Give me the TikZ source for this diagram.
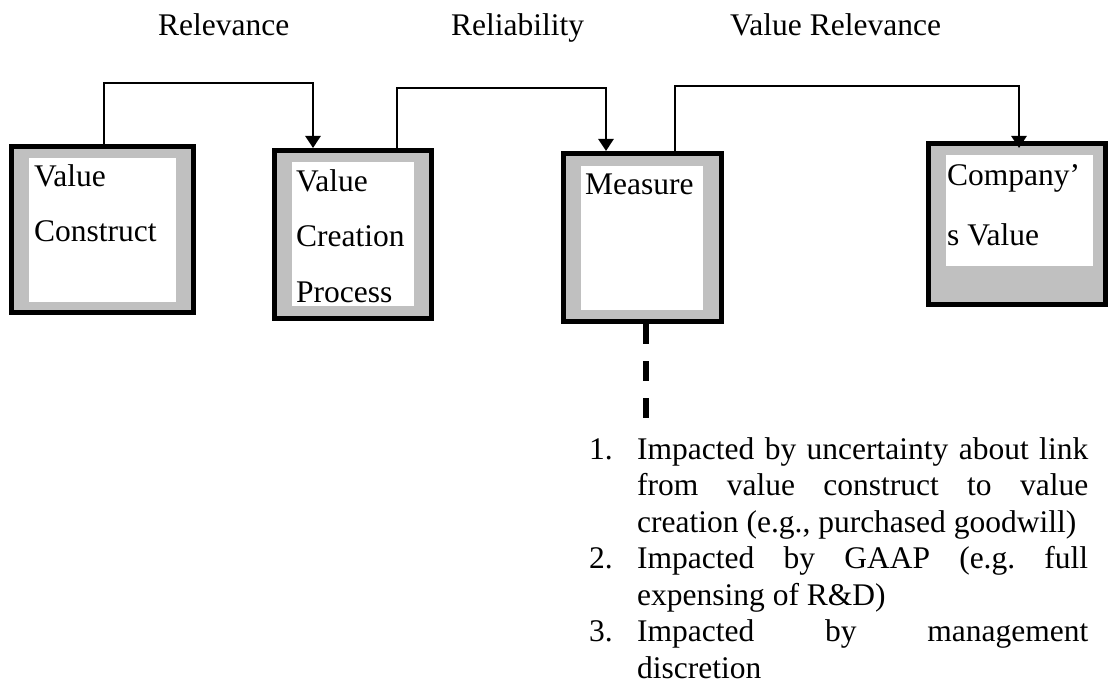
\documentclass[tikz,border=0pt]{standalone}
\usepackage{fontspec}
\setmainfont{Liberation Serif}
\usetikzlibrary{arrows.meta,calc}
\definecolor{framegray}{RGB}{192,192,192}
\frenchspacing
\begin{document}
\begin{tikzpicture}[x=1pt,y=-1pt,
  frame/.style={draw=black, fill=framegray, line width=5pt, inner sep=0pt},
  label/.style={anchor=base west, inner sep=0pt, font=\fontsize{31.5}{36}\selectfont},
  link/.style={line width=2.7pt, -{Triangle[width=15pt,length=12pt]}},
  dashlink/.style={line width=5.5pt, dash pattern=on 20pt off 17pt}]
\path[use as bounding box] (0,0) rectangle (1110,684);

% headings over the connectors
\node[label] (hrel) at (158,36) {Relevance};
\node[label] (hreli) at (451,36) {Reliability};
\node[label] (hval) at (730,36) {Value Relevance};

% framed boxes: black border, grey band, white panel
\node[frame, minimum width=182pt, minimum height=166pt] (vc) at (102.5,229.5) {};
\fill[white] (29,158) rectangle (176,302);
\node[frame, minimum width=157pt, minimum height=168pt] (vcp) at (353,234.5) {};
\fill[white] (292,162) rectangle (414,306);
\node[frame, minimum width=158pt, minimum height=168pt] (meas) at (642.5,237.5) {};
\fill[white] (581,166) rectangle (703,310);
\node[frame, minimum width=177pt, minimum height=161pt] (cv) at (1017,224) {};
\fill[white] (946,155) rectangle (1093,266);

% box texts
\node[label] (vc1) at (34,187) {Value};
\node[label] (vc2) at (34,242) {Construct};
\node[label] (vcp1) at (296,192) {Value};
\node[label] (vcp2) at (296,247) {Creation};
\node[label] (vcp3) at (296,302) {Process};
\node[label] (meas1) at (585,195) {Measure};
\node[label] (cv1) at (947,186) {Company’};
\node[label] (cv2) at (947,246) {s Value};

% connectors
\draw[link] (vc.north -| 104,0) |- (313,83) -- (vcp.north -| 313,0);
\draw[link] ($(vcp.north -| 397,0)+(0,4)$) |- (606,88) -- (meas.north -| 606,0);
\draw[link] (meas.north -| 675,0) |- (1019,86) -- ($(cv.north -| 1019,0)+(0,7)$);

% dashed drop line to the list
\coordinate (dashend) at (646,419);
\draw[dashlink] (meas.south -| dashend) -- (dashend);

% numbered list
\node[label] (n1) at (589,459) {1.};
\node[label] (l1) at (637,459) {\makebox[451pt][s]{Impacted by uncertainty about link}};
\node[label] (l2) at (637,495.5) {\makebox[451pt][s]{from value construct to value}};
\node[label] (l3) at (637,532) {creation (e.g., purchased goodwill)};
\node[label] (n2) at (589,568.5) {2.};
\node[label] (l4) at (637,568.5) {\makebox[451pt][s]{Impacted by GAAP (e.g. full}};
\node[label] (l5) at (637,605) {expensing of R\&D)};
\node[label] (n3) at (589,641.5) {3.};
\node[label] (l6) at (637,641.5) {\makebox[451pt][s]{Impacted by management}};
\node[label] (l7) at (637,678) {discretion};
\end{tikzpicture}
\end{document}
